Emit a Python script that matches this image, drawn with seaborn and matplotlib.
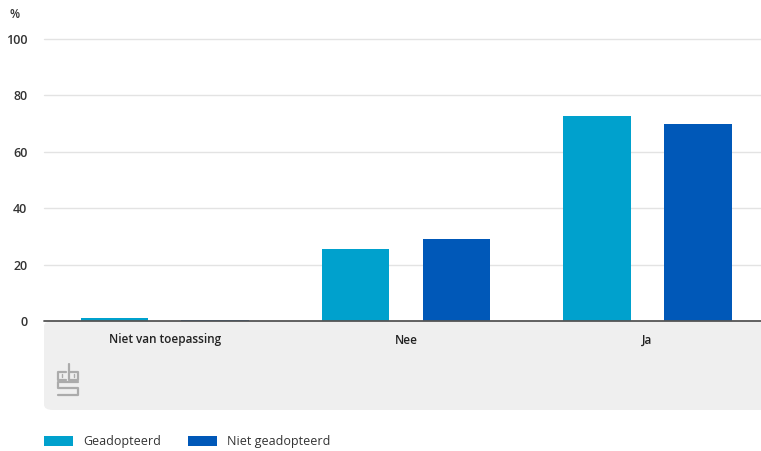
import pandas as pd
import numpy as np
import matplotlib.pyplot as plt
import seaborn as sns
from matplotlib.patches import FancyBboxPatch, Rectangle

# data
categories = ['Niet van toepassing', 'Nee', 'Ja']
geadopteerd = [1.0, 25.4, 72.7]
niet_geadopteerd = [0.4, 29.0, 69.9]
series_names = ['Geadopteerd', 'Niet geadopteerd']
yticks = [0, 20, 40, 60, 80, 100]

colors = ['#00a1cd', '#0058b8']

df = pd.DataFrame({
    'categorie': categories * 2,
    'groep': [series_names[0]] * 3 + [series_names[1]] * 3,
    'pct': geadopteerd + niet_geadopteerd,
})

sns.set_style('white')
plt.rcParams['font.family'] = ['Open Sans', 'DejaVu Sans']

fig = plt.figure(figsize=(7.61, 4.51), dpi=100)
W, H = 761, 451

# gray band under the axis with category labels
band = FancyBboxPatch((44 / W, (H - 410) / H), (W - 44) / W + 0.02, (410 - 321) / H,
                      boxstyle='round,pad=0,rounding_size=0.012',
                      transform=fig.transFigure, facecolor='#efefef',
                      edgecolor='none', zorder=-1)
fig.patches.append(band)

ax = fig.add_axes([44 / W, (H - 321) / H, (W - 44) / W, (321 - 39) / H])
ax.patch.set_alpha(0)

sns.barplot(data=df, x='categorie', y='pct', hue='groep', palette=colors,
            order=categories, hue_order=series_names, width=0.835, gap=0.33,
            saturation=1, linewidth=0, ax=ax, legend=False, zorder=3)

ax.set_xlim(-0.5, 2.47)
ax.set_ylim(0, 100)
ax.set_yticks(yticks)
ax.set_yticklabels([str(t) for t in yticks], fontsize=9, color='#333333')
ax.tick_params(axis='y', length=0, pad=12)
ax.tick_params(axis='x', length=0, pad=9, labelsize=8.5, labelcolor='#222222')
for lbl in ax.get_xticklabels():
    lbl.set_fontweight('semibold')
for lbl in ax.get_yticklabels():
    lbl.set_fontweight('semibold')
for t in yticks[1:]:
    ax.axhline(t, color='#e3e3e3', lw=1.0, zorder=1, clip_on=False)
ax.axhline(0, color='#555555', lw=1.3, zorder=4, clip_on=False)
ax.set_xlabel('')
ax.set_ylabel('')
for s in ax.spines.values():
    s.set_visible(False)

fig.text(10 / W, 1 - 15 / H, '%', fontsize=8.5, color='#333333',
         fontweight='semibold', va='center', ha='left')

# small cbs logo mark
logo = fig.add_axes([56 / W, (H - 397) / H, 24 / W, 34 / H])
logo.axis('off')
logo.set_xlim(0, 10)
logo.set_ylim(0, 14)
gray = '#ababab'
logo.plot([4.3, 1, 1, 4.3], [10.5, 10.5, 7.2, 7.2], color=gray, lw=1.6)
logo.plot([5.6, 5.6, 9, 9, 5.6], [13.5, 7.2, 7.2, 10.5, 10.5], color=gray, lw=1.6)
logo.plot([9, 1, 1, 9, 9, 1], [6.0, 6.0, 3.7, 3.7, 1.0, 1.0], color=gray, lw=1.6)
logo.plot([2.6, 2.6], [8.3, 9.4], color=gray, lw=1.0)
logo.plot([7.3, 7.3], [8.3, 9.4], color=gray, lw=1.0)

# legend at the bottom
for i, (name, col) in enumerate(zip(series_names, colors)):
    x0 = [44, 188][i]
    fig.patches.append(Rectangle((x0 / W, (H - 446) / H), 29 / W, 10 / H,
                                 transform=fig.transFigure, facecolor=col,
                                 edgecolor='none'))
    fig.text((x0 + 39) / W, (H - 441) / H, name, fontsize=9, color='#333333',
             va='center', ha='left')

fig.savefig('out.png', dpi=100)
